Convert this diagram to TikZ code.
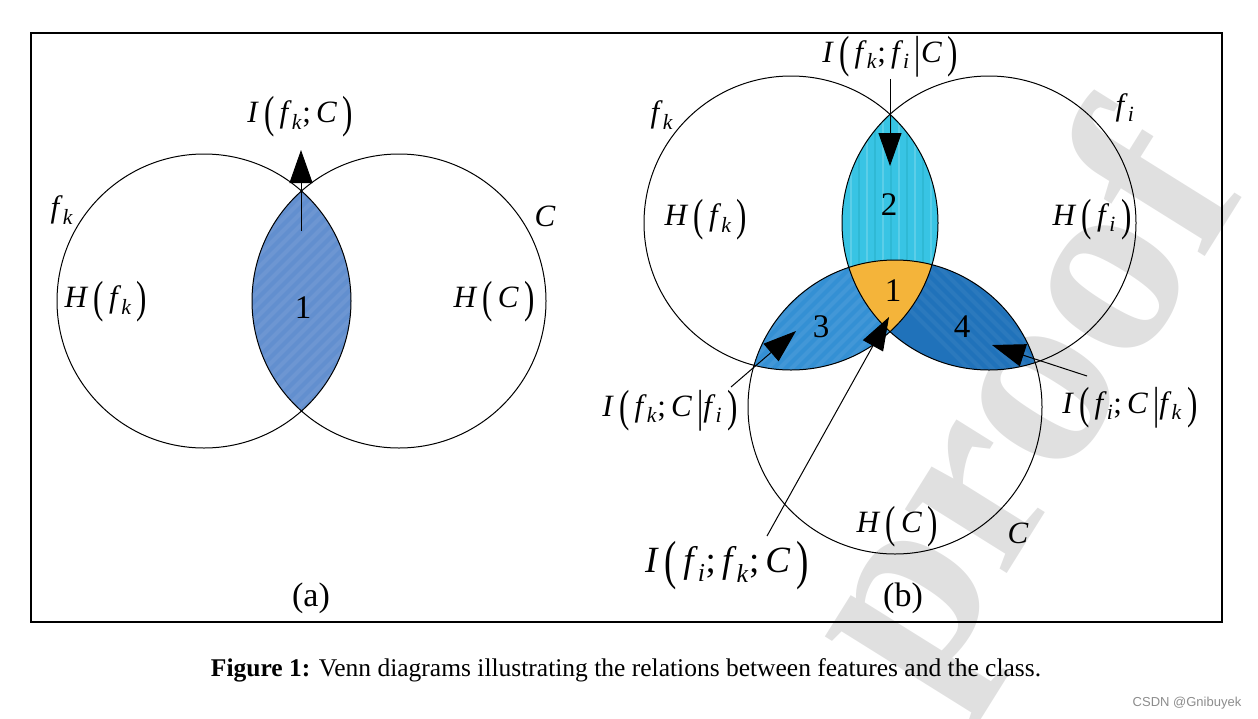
\documentclass[tikz,border=0pt]{standalone}
\usepackage{fontspec}
\setmainfont{Liberation Serif}
\newfontfamily\csdnfont{Liberation Sans}
\usetikzlibrary{arrows.meta}

\definecolor{lente}{RGB}{98,143,207}
\definecolor{zonauno}{RGB}{244,180,58}
\definecolor{zonados}{RGB}{56,196,228}
\definecolor{zonatres}{RGB}{52,144,212}
\definecolor{zonacuatro}{RGB}{32,114,186}

\newcommand{\mi}[1]{\textit{#1}}
\newcommand{\sub}[1]{\textsubscript{\textit{#1}}}
\newcommand{\lp}{\,\raisebox{-0.17em}{\scalebox{1}[1.45]{(}}\,}
\newcommand{\rp}{\,\raisebox{-0.17em}{\scalebox{1}[1.45]{)}}}
\newcommand{\vb}{\,\raisebox{-0.17em}{\scalebox{1}[1.45]{|}}}
\newcommand{\pc}{;\,}

\tikzset{
  etiq/.style={font=\fontsize{31}{34}\selectfont, inner sep=1pt},
  numero/.style={font=\fontsize{33}{35}\selectfont, inner sep=1pt},
  flecha/.style={->, line width=1pt},
  raya/.style={white, opacity=0.07, line width=4pt},
}

\begin{document}
\begin{tikzpicture}[x=1pt, y=-1pt, >={Triangle[length=33pt, width=23pt]}, line width=1pt]
  \useasboundingbox (0,0) rectangle (1258,718);
  % marca de agua
  \node[rotate=58, text=black!12, font=\bfseries\fontsize{262}{262}\selectfont] (marca) at (1032,412) {proof};
  % marco
  \draw[line width=1.5pt] (31,33) rectangle (1222,622);

  % (a) dos conjuntos
  \coordinate (fa) at (204,301);   % f_k
  \coordinate (ca) at (399,301);   % C
  \begin{scope}
    \clip (fa) circle[radius=147pt];
    \clip (ca) circle[radius=147pt];
    \fill[lente] (ca) circle[radius=147pt];
    \foreach \x in {40,52,...,400} \draw[raya] (\x,450) -- ++(260,-260);
  \end{scope}
  \draw (fa) circle[radius=147pt] (ca) circle[radius=147pt];
  \node[etiq] (Ia) at (300,117) {\mi{I}\lp\mi{f}\sub{k}\pc\mi{C}\rp};
  \node[etiq] (fka) at (62,210) {\mi{f}\sub{k}};
  \node[etiq] (Ca) at (545,216) {\mi{C}};
  \node[etiq] (Hfa) at (106,302) {\mi{H}\lp\mi{f}\sub{k}\rp};
  \node[etiq] (HCa) at (494,302) {\mi{H}\lp\mi{C}\rp};
  \node[numero] (na) at (303,308) {1};
  \node[numero, font=\fontsize{34}{36}\selectfont] (a) at (311,598) {(a)};
  \coordinate (pa) at (301,231);
  \coordinate (ta) at (301,150);
  \draw[flecha] (pa) -- (ta);

  % (b) tres conjuntos
  \coordinate (fk) at (791,223);   % f_k
  \coordinate (fi) at (989,223);   % f_i
  \coordinate (cc) at (895,407);   % C
  % zona 2: f_k y f_i
  \begin{scope}
    \clip (fk) circle[radius=147pt];
    \clip (fi) circle[radius=147pt];
    \fill[zonados] (fi) circle[radius=147pt];
    \foreach \x in {851,867,...,935} \draw[white, opacity=0.18, line width=2pt] (\x,100) -- (\x,300);
    \foreach \x in {859,875,...,935} \draw[teal, opacity=0.15, line width=1.5pt] (\x,100) -- (\x,300);
  \end{scope}
  % zona 3: f_k y C
  \begin{scope}
    \clip (fk) circle[radius=147pt];
    \clip (cc) circle[radius=147pt];
    \fill[zonatres] (cc) circle[radius=147pt];
    \foreach \x in {700,712,...,960} \draw[raya] (\x,400) -- ++(150,-150);
  \end{scope}
  % zona 4: f_i y C
  \begin{scope}
    \clip (fi) circle[radius=147pt];
    \clip (cc) circle[radius=147pt];
    \fill[zonacuatro] (cc) circle[radius=147pt];
    \foreach \x in {850,862,...,1100} \draw[raya, opacity=0.05] (\x,250) -- ++(150,150);
  \end{scope}
  % zona 1: los tres
  \begin{scope}
    \clip (fk) circle[radius=147pt];
    \clip (fi) circle[radius=147pt];
    \fill[zonauno] (cc) circle[radius=147pt];
  \end{scope}
  \draw (fk) circle[radius=147pt] (fi) circle[radius=147pt] (cc) circle[radius=147pt];

  \node[etiq] (Ikic) at (890,57) {\mi{I}\lp\mi{f}\sub{k}\pc\mi{f}\sub{i}\vb\mi{C}\rp};
  \node[etiq] (fkb) at (662,115) {\mi{f}\sub{k}};
  \node[etiq] (fib) at (1125,108) {\mi{f}\sub{i}};
  \node[etiq] (Hfk) at (706,220) {\mi{H}\lp\mi{f}\sub{k}\rp};
  \node[etiq] (Hfi) at (1092,220) {\mi{H}\lp\mi{f}\sub{i}\rp};
  \node[etiq] (HCb) at (897,527) {\mi{H}\lp\mi{C}\rp};
  \node[etiq] (Cb) at (1018,533) {\mi{C}};
  \node[numero] (n2) at (889,205) {2};
  \node[numero] (n1) at (893,291) {1};
  \node[numero] (n3) at (821,327) {3};
  \node[numero] (n4) at (962,327) {4};
  \node[etiq] (Ikci) at (670,411) {\mi{I}\lp\mi{f}\sub{k}\pc\mi{C}\vb\mi{f}\sub{i}\rp};
  \node[etiq, font=\fontsize{37}{40}\selectfont] (Iikc) at (727,566) {\mi{I}\lp\mi{f}\sub{i}\pc\mi{f}\sub{k}\pc\mi{C}\rp};
  \node[etiq] (Iick) at (1130,408) {\mi{I}\lp\mi{f}\sub{i}\pc\mi{C}\vb\mi{f}\sub{k}\rp};
  \node[numero, font=\fontsize{34}{36}\selectfont] (b) at (903,598) {(b)};
  % flechas
  \coordinate (t2) at (890,166);
  \coordinate (t3) at (796,331);
  \coordinate (s3) at (731,387);
  \coordinate (t1) at (889,317);
  \coordinate (s1) at (767,536);
  \coordinate (t4) at (992,345);
  \coordinate (s4) at (1087,376);
  \draw[flecha] (t2 |- Ikic.south) -- (t2);
  \draw[flecha] (s3) -- (t3);
  \draw[flecha] (s1) -- (t1);
  \draw[flecha] (s4) -- (t4);

  % pie de figura
  \node[font=\fontsize{25.5}{28}\selectfont] (pie) at (626,670)
    {\textbf{Figure 1:} Venn diagrams illustrating the relations between features and the class.};
  \node[font=\csdnfont\fontsize{13}{15}\selectfont, text=black!45] (csdn) at (1187,703) {CSDN @Gnibuyek};
\end{tikzpicture}
\end{document}
